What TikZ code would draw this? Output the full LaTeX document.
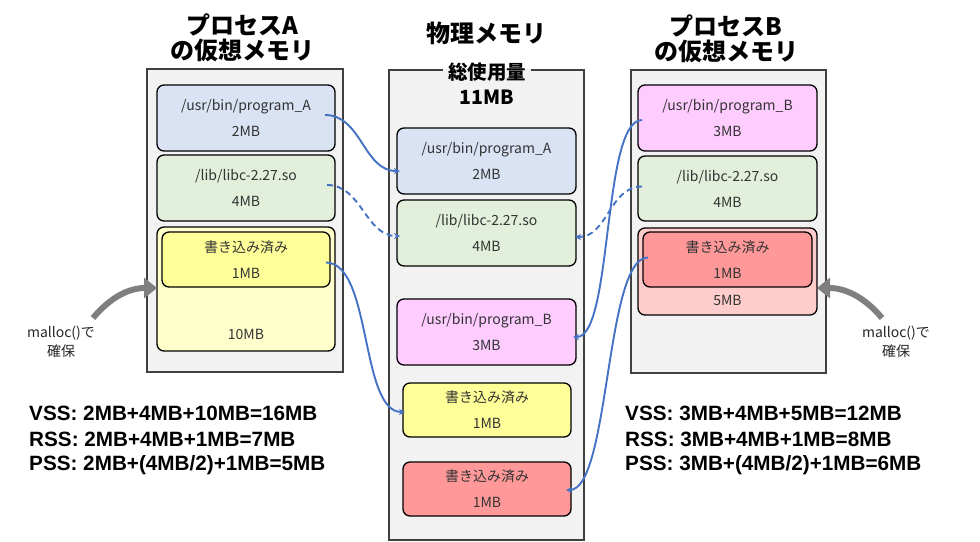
\documentclass[tikz,border=0pt]{standalone}
\usepackage{fontspec}
\setmainfont{Noto Sans CJK JP}
\newfontfamily\arialf{Liberation Sans}
\usetikzlibrary{arrows.meta}
\definecolor{contfill}{HTML}{F2F2F2}
\definecolor{edgegray}{HTML}{404040}
\definecolor{txtgray}{HTML}{333333}
\definecolor{linkblue}{HTML}{4472C4}
\definecolor{arrowgray}{HTML}{7F7F7F}
\definecolor{cblue}{HTML}{DAE3F3}
\definecolor{cgreen}{HTML}{E2EFDA}
\definecolor{cyelbig}{HTML}{FFFFCC}
\definecolor{cyel}{HTML}{FFFF99}
\definecolor{cpink}{HTML}{FFCCFF}
\definecolor{cred}{HTML}{FF9999}
\definecolor{credbig}{HTML}{FFCCCC}
\tikzset{
  cont/.style={draw=edgegray, line width=1.3pt, fill=contfill, inner sep=0pt, outer sep=0pt},
  mbox/.style={draw=black, line width=1.3pt, rounded corners=7pt, inner sep=0pt, outer sep=0pt,
    align=center, text=txtgray, font=\fontsize{14}{26}\selectfont},
  plain/.style={inner sep=0pt, text=txtgray, font=\fontsize{14}{26}\selectfont},
  link/.style={draw=linkblue, line width=1.9pt, -{Stealth[length=6pt,width=6pt]}},
  dlink/.style={link, dash pattern=on 6pt off 4pt},
  garrow/.style={draw=arrowgray, line width=6pt, -{Triangle[length=13pt,width=20pt]}},
  ttl/.style={inner sep=0pt, align=center, font=\fontsize{24}{25}\selectfont\bfseries},
  stat/.style={inner sep=0pt, anchor=west, align=left, font=\arialf\bfseries\fontsize{20.7}{26.5}\selectfont},
  note/.style={inner sep=0pt, align=center, text=black!85, font=\fontsize{14}{19}\selectfont}
}
\begin{document}
\begin{tikzpicture}[x=1pt,y=-1pt]
\useasboundingbox (0,0) rectangle (980,541);

% titles
\node[ttl] (tA) at (242,37.5) {プロセスA\\の仮想メモリ};
\node[ttl] (tM) at (486,33) {物理メモリ};
\node[ttl] (tB) at (726,38.5) {プロセスB\\の仮想メモリ};

% containers
\node[cont, minimum width=196pt, minimum height=303pt] (cA) at (245,220.5) {};
\node[cont, minimum width=195pt, minimum height=470pt] (cM) at (486.5,305) {};
\node[cont, minimum width=195pt, minimum height=303pt] (cB) at (728.5,221.5) {};

% total label on middle container
\fill[contfill] (443,68.5) rectangle (531,71.5);
\node[inner sep=0pt, font=\fontsize{19.5}{22}\selectfont\bfseries] (tot1) at (487,72) {総使用量};
\node[inner sep=0pt, font=\fontsize{19.5}{22}\selectfont\bfseries] (tot2) at (487,97) {11MB};

% process A
\node[mbox, fill=cblue, minimum width=178pt, minimum height=66pt] (pA) at (246,118) {/usr/bin/program\_A\\2MB};
\node[mbox, fill=cgreen, minimum width=178pt, minimum height=66pt] (lA) at (246,188) {/lib/libc-2.27.so\\4MB};
\node[mbox, fill=cyelbig, minimum width=178pt, minimum height=124pt] (bigA) at (246,289) {};
\node[mbox, fill=cyel, minimum width=168pt, minimum height=55pt] (wA) at (246,259.5) {書き込み済み\\1MB};
\node[plain] (sA) at (246,334) {10MB};

% physical
\node[mbox, fill=cblue, minimum width=179pt, minimum height=66pt] (mpA) at (486.5,161) {/usr/bin/program\_A\\2MB};
\node[mbox, fill=cgreen, minimum width=179pt, minimum height=66pt] (mlib) at (486.5,233) {/lib/libc-2.27.so\\4MB};
\node[mbox, fill=cpink, minimum width=179pt, minimum height=66pt] (mpB) at (486.5,332) {/usr/bin/program\_B\\3MB};
\node[mbox, fill=cyel, minimum width=168pt, minimum height=54pt] (myel) at (487,410) {書き込み済み\\1MB};
\node[mbox, fill=cred, minimum width=168pt, minimum height=54pt] (mred) at (487,489) {書き込み済み\\1MB};

% process B
\node[mbox, fill=cpink, minimum width=179pt, minimum height=66pt] (pB) at (727.5,118) {/usr/bin/program\_B\\3MB};
\node[mbox, fill=cgreen, minimum width=179pt, minimum height=65pt] (lB) at (727.5,188.5) {/lib/libc-2.27.so\\4MB};
\node[mbox, fill=credbig, minimum width=179pt, minimum height=87pt] (bigB) at (727.5,271.5) {};
\node[mbox, fill=cred, minimum width=169pt, minimum height=55pt] (wB) at (727.5,259.5) {書き込み済み\\1MB};
\node[plain] (sB) at (727.5,300) {5MB};

% links
\draw[link] ([xshift=-10pt,yshift=3pt]pA.east) to[out=0,in=180] ([xshift=3pt,yshift=-10pt]mpA.west);
\draw[dlink] ([xshift=-8pt,yshift=3pt]lA.east) to[out=0,in=180] ([xshift=3pt,yshift=-3pt]mlib.west);
\draw[link] ([xshift=-4pt,yshift=-3pt]wA.east) .. controls (372,263) and (360,412) .. ([xshift=2pt,yshift=-2pt]myel.west);
\draw[link] ([xshift=4pt,yshift=-2pt]pB.west) .. controls (602,120) and (613,337) .. ([xshift=-3pt,yshift=-5pt]mpB.east);
\draw[dlink] ([xshift=4pt,yshift=2pt]lB.west) to[out=180,in=0] ([xshift=-1pt,yshift=-4pt]mlib.east);
\draw[link] ([xshift=5pt,yshift=2pt]wB.west) .. controls (605,257) and (610,490) .. ([xshift=-5pt,yshift=-1pt]mred.east);

% malloc arrows
\coordinate (gA) at (93,318);
\coordinate (gB) at (882,318);
\draw[garrow] (gA) to[out=50,in=180] ([yshift=1pt]bigA.west);
\draw[garrow] (gB) to[out=130,in=0] ([yshift=-16.5pt]bigB.east);
\node[note] (nA) at (61,342) {malloc()で\\確保};
\node[note] (nB) at (896,342) {malloc()で\\確保};

% stats
\node[stat] (vA) at (29,413) {VSS: 2MB+4MB+10MB=16MB};
\node[stat] (rA) at (29,439) {RSS: 2MB+4MB+1MB=7MB};
\node[stat] (qA) at (29,465) {PSS: 2MB+(4MB/2)+1MB=5MB};
\node[stat] (vB) at (625,413) {VSS: 3MB+4MB+5MB=12MB};
\node[stat] (rB) at (625,439) {RSS: 3MB+4MB+1MB=8MB};
\node[stat] (qB) at (625,465) {PSS: 3MB+(4MB/2)+1MB=6MB};
\end{tikzpicture}
\end{document}
